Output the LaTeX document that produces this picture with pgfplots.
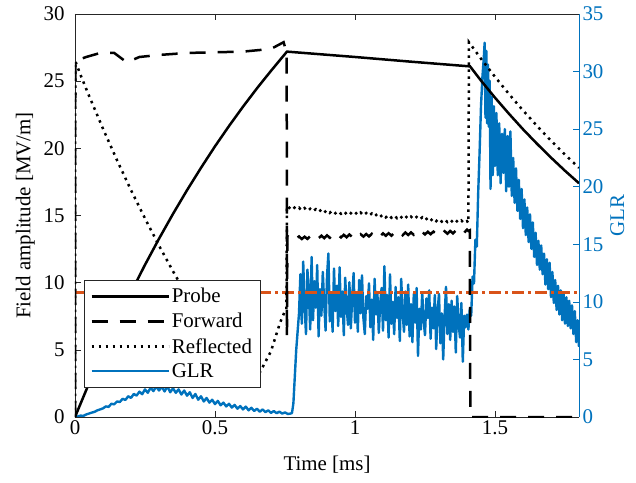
\documentclass[border=0pt]{standalone}
\usepackage{fontspec}
\setmainfont{Liberation Serif}
\usepackage{pgfplots}
\pgfplotsset{compat=1.18}
\definecolor{mblue}{RGB}{0,114,189}
\definecolor{morange}{RGB}{217,83,25}
\definecolor{axgray}{RGB}{38,38,38}
\newcommand{\lblfont}{\fontsize{21}{25}\selectfont}
\begin{document}
\begin{tikzpicture}
\pgfplotsset{
  common/.style={
    scale only axis, width=504bp, height=403bp,
    xmin=0, xmax=1.8,
    tick align=inside,
    /pgf/number format/assume math mode=true,
    tick label style={font=\lblfont},
    major tick length=6bp,
    clip=true,
  }
}
% ---------------- right axis (GLR) ----------------
\begin{axis}[common, name=ax2,
  axis x line=none, axis y line*=right,
  ymin=0, ymax=35, ytick={0,5,10,15,20,25,30,35},
  y axis line style={mblue, line width=0.6bp},
  ytick style={mblue, line width=0.6bp},
  yticklabel style={mblue},
  ylabel={GLR}, ylabel style={mblue, font=\lblfont},
]
\addplot[mblue, line width=2.4bp, line join=round] coordinates {
(0.00,0.00)(0.01,0.05)(0.02,0.12)(0.03,0.10)(0.04,0.22)(0.05,0.30)(0.06,0.38)(0.07,0.45)(0.08,0.58)(0.09,0.66)
(0.10,0.75)(0.11,0.92)(0.12,0.88)(0.13,1.15)(0.14,1.10)(0.15,1.35)(0.16,1.30)(0.17,1.58)(0.18,1.48)(0.19,1.80)
(0.20,1.66)(0.21,2.00)(0.22,1.86)(0.23,2.20)(0.24,1.98)(0.25,2.40)(0.26,2.10)(0.27,2.55)(0.28,2.25)(0.29,2.65)
(0.30,2.30)(0.31,2.62)(0.32,2.22)(0.33,2.66)(0.34,2.15)(0.35,2.50)(0.36,2.10)(0.37,2.40)(0.38,1.95)(0.39,2.30)
(0.40,1.85)(0.41,2.15)(0.42,1.65)(0.43,2.00)(0.44,1.50)(0.45,1.80)(0.46,1.35)(0.47,1.65)(0.48,1.25)(0.49,1.50)
(0.50,1.12)(0.51,1.40)(0.52,1.02)(0.53,1.25)(0.54,0.92)(0.55,1.15)(0.56,0.82)(0.57,1.05)(0.58,0.72)(0.59,0.95)
(0.60,0.66)(0.61,0.90)(0.62,0.58)(0.63,0.80)(0.64,0.52)(0.65,0.72)(0.66,0.46)(0.67,0.66)(0.68,0.42)(0.69,0.58)
(0.70,0.36)(0.71,0.52)(0.72,0.33)(0.73,0.46)(0.74,0.30)(0.75,0.40)(0.76,0.26)(0.77,0.30)(0.775,0.35)
(0.780,1.2)(0.785,3.5)(0.790,5.8)(0.795,7.4)
(0.800,9.0)(0.805,12.4)(0.810,8.1)(0.815,13.5)(0.820,9.6)(0.825,7.2)(0.830,12.8)(0.835,10.9)(0.840,7.6)(0.845,13.9)
(0.850,8.4)(0.855,11.8)(0.860,9.5)(0.865,13.2)(0.870,7.0)(0.875,11.1)(0.880,8.8)(0.885,12.6)(0.890,9.9)(0.895,7.5)
(0.900,12.2)(0.905,14.2)(0.910,8.3)(0.915,10.7)(0.920,7.4)(0.925,12.9)(0.930,9.2)(0.935,11.4)(0.940,7.9)(0.945,13.0)
(0.950,8.7)(0.955,10.9)(0.960,7.1)(0.965,12.1)(0.970,9.6)(0.975,8.0)(0.980,11.7)(0.985,7.7)(0.990,10.3)(0.995,12.5)
(1.000,8.2)(1.005,10.8)(1.010,7.4)(1.015,11.9)(1.020,9.0)(1.025,12.3)(1.030,8.6)(1.035,7.2)(1.040,10.5)(1.045,9.4)
(1.050,11.6)(1.055,7.8)(1.060,10.2)(1.065,6.7)(1.070,12.0)(1.075,8.9)(1.080,10.8)(1.085,7.3)(1.090,9.9)(1.095,11.2)
(1.100,7.5)(1.105,13.1)(1.110,8.4)(1.115,10.6)(1.120,6.9)(1.125,12.4)(1.130,8.1)(1.135,10.0)(1.140,7.2)(1.145,11.3)
(1.150,8.6)(1.155,10.4)(1.160,6.6)(1.165,12.0)(1.170,9.1)(1.175,7.4)(1.180,10.9)(1.185,8.0)(1.190,11.5)(1.195,7.0)
(1.200,9.8)(1.205,6.5)(1.210,10.7)(1.215,8.2)(1.220,11.2)(1.225,5.3)(1.230,9.4)(1.235,7.6)(1.240,10.8)(1.245,8.4)
(1.250,7.1)(1.255,10.3)(1.260,8.6)(1.265,11.0)(1.270,6.8)(1.275,9.5)(1.280,7.7)(1.285,10.6)(1.290,5.9)(1.295,9.2)
(1.300,10.7)(1.305,6.4)(1.310,9.0)(1.315,5.0)(1.320,8.7)(1.325,11.3)(1.330,7.2)(1.335,9.8)(1.340,6.7)(1.345,10.1)
(1.350,7.4)(1.355,9.6)(1.360,5.6)(1.365,10.5)(1.370,8.1)(1.375,6.9)(1.380,9.9)(1.385,4.8)(1.390,8.8)(1.395,7.8)
(1.400,8.9)(1.405,7.6)(1.410,9.4)(1.415,8.8)(1.420,12.2)(1.425,11.6)(1.430,15.4)(1.435,14.8)(1.440,19.5)(1.445,23.0)
(1.450,27.0)(1.455,29.5)(1.460,31.2)(1.463,32.5)(1.466,26.0)(1.469,31.8)(1.472,25.5)(1.475,30.6)(1.478,25.2)(1.481,29.2)
(1.484,19.8)(1.488,27.8)(1.492,21.0)(1.496,27.0)
(1.500,21.8)(1.505,26.4)(1.510,21.0)(1.515,25.5)(1.520,20.3)(1.525,24.6)(1.530,21.2)(1.535,25.0)(1.540,19.6)(1.545,24.4)
(1.550,20.0)(1.555,24.8)(1.560,19.2)(1.565,22.5)(1.570,18.6)(1.575,21.6)(1.580,17.9)(1.585,20.6)(1.590,17.2)(1.595,19.8)
(1.600,16.4)(1.605,18.9)(1.610,15.8)(1.615,18.2)(1.620,15.2)(1.625,17.6)(1.630,14.6)(1.635,16.9)(1.640,13.9)(1.645,16.0)
(1.650,13.2)(1.655,15.3)(1.660,12.8)(1.665,14.9)(1.670,12.4)(1.675,14.2)(1.680,11.5)(1.685,13.7)(1.690,11.1)(1.695,13.4)
(1.700,10.4)(1.705,12.6)(1.710,9.9)(1.715,11.9)(1.720,9.3)(1.725,11.4)(1.730,8.9)(1.735,11.0)(1.740,8.4)(1.745,10.7)
(1.750,8.1)(1.755,10.4)(1.760,7.9)(1.765,10.1)(1.770,7.7)(1.775,9.7)(1.780,7.2)(1.785,9.2)(1.790,6.5)(1.795,8.4)
(1.800,6.1)
};
\addplot[morange, line width=2.4bp, dash pattern=on 12bp off 4bp on 3bp off 4bp] coordinates {(0,10.8) (1.8,10.8)};
\end{axis}
% ---------------- left axis (field) ----------------
\begin{axis}[common, name=ax,
  axis x line=box, axis y line*=left,
  ymin=0, ymax=30, ytick={0,5,10,15,20,25,30},
  xtick={0,0.5,1,1.5},
  xticklabels={0,0.5,1,1.5},
  yticklabel style={xshift=-7bp},
  axis line style={axgray, line width=0.6bp},
  tick style={axgray, line width=0.6bp},
  xlabel={Time [ms]}, ylabel={Field amplitude [MV/m]},
  xlabel style={font=\lblfont, yshift=-14bp},
  ylabel style={font=\lblfont, yshift=2bp},
  legend cell align=left,
  legend style={at={(0.018,0.074)}, anchor=south west, font=\lblfont,
    draw=axgray, line width=0.5bp, fill=white, inner xsep=6bp, inner ysep=6bp,
    row sep=5bp},
  legend image code/.code={\draw[#1] (0bp,0bp) -- (77bp,0bp);},
]
\addplot[black, line width=2.5bp] coordinates {
(0,0)(0.05,2.50)(0.1,4.87)(0.15,7.13)(0.2,9.28)(0.25,11.33)(0.3,13.27)(0.35,15.12)(0.4,16.88)
(0.45,18.55)(0.5,20.15)(0.55,21.66)(0.6,23.10)(0.65,24.47)(0.7,25.77)(0.757,27.2)
(1.0,26.8)(1.2,26.45)(1.411,26.1)(1.45,25.04)(1.5,23.77)(1.55,22.57)(1.6,21.42)(1.65,20.34)
(1.7,19.31)(1.75,18.33)(1.8,17.40)
};
\addlegendentry{Probe}
\addplot[black, line width=2.5bp, dash pattern=on 16bp off 12bp] coordinates {
(0,0)(0.001,26.5)(0.04,26.8)(0.09,27.1)(0.14,27.1)(0.185,26.4)(0.23,26.8)(0.3,26.95)(0.4,27.1)
(0.5,27.15)(0.6,27.2)(0.7,27.4)(0.745,27.9)(0.752,27.4)(0.756,27.3)(0.757,6.0)(0.7585,13.45)
(0.760,13.45)(0.770,13.30)(0.780,13.48)(0.790,13.28)(0.800,13.44)(0.810,13.25)(0.820,13.42)(0.830,13.26)(0.840,13.45)(0.850,13.28)
(0.860,13.47)(0.870,13.30)(0.880,13.50)(0.890,13.32)(0.900,13.52)(0.910,13.34)(0.920,13.53)(0.930,13.35)(0.940,13.55)(0.950,13.37)
(0.960,13.56)(0.970,13.38)(0.980,13.58)(0.990,13.40)(1.000,13.60)(1.010,13.41)(1.020,13.61)(1.030,13.43)(1.040,13.62)(1.050,13.44)
(1.060,13.64)(1.070,13.46)(1.080,13.65)(1.090,13.47)(1.100,13.67)(1.110,13.49)(1.120,13.68)(1.130,13.50)(1.140,13.70)(1.150,13.52)
(1.160,13.71)(1.170,13.53)(1.180,13.73)(1.190,13.55)(1.200,13.74)(1.210,13.56)(1.220,13.76)(1.230,13.58)(1.240,13.77)(1.250,13.59)
(1.260,13.79)(1.270,13.61)(1.280,13.80)(1.290,13.62)(1.300,13.82)(1.310,13.64)(1.320,13.83)(1.330,13.65)(1.340,13.85)(1.350,13.67)
(1.360,13.87)(1.370,13.69)(1.380,13.90)(1.390,13.72)(1.400,13.95)(1.405,13.85)(1.410,13.9)(1.412,0)(1.8,0)
};
\addlegendentry{Forward}
\addplot[black, line width=2.5bp, dash pattern=on 2.5bp off 4.5bp] coordinates {
(0,0)(0.001,26.5)(0.02,25.45)(0.05,23.92)(0.1,21.46)(0.15,19.12)(0.2,16.89)(0.25,14.78)(0.3,12.76)
(0.35,10.85)(0.4,9.03)(0.45,7.29)(0.5,5.65)(0.55,4.3)(0.6,3.4)(0.63,3.1)(0.661,3.35)(0.7,4.9)(0.732,7.0)
(0.75,7.9)(0.755,8.0)(0.757,15.7)
(0.760,15.70)(0.770,15.48)(0.780,15.66)(0.790,15.45)(0.800,15.58)(0.810,15.36)(0.820,15.55)(0.830,15.33)(0.840,15.50)(0.850,15.30)
(0.860,15.47)(0.870,15.26)(0.880,15.44)(0.890,15.22)(0.900,15.41)(0.910,15.20)(0.920,15.38)(0.930,15.17)(0.940,15.33)(0.950,15.13)
(0.960,15.32)(0.970,15.10)(0.980,15.28)(0.990,15.08)(1.000,15.25)(1.010,15.03)(1.020,15.22)(1.030,15.00)(1.040,15.18)(1.050,14.97)
(1.060,15.15)(1.070,14.93)(1.080,15.12)(1.090,14.90)(1.100,15.08)(1.110,14.86)(1.120,15.05)(1.130,14.84)(1.140,15.02)(1.150,14.80)
(1.160,14.99)(1.170,14.77)(1.180,14.96)(1.190,14.74)(1.200,14.92)(1.210,14.71)(1.220,14.89)(1.230,14.68)(1.240,14.86)(1.250,14.64)
(1.260,14.83)(1.270,14.61)(1.280,14.80)(1.290,14.58)(1.300,14.76)(1.310,14.55)(1.320,14.73)(1.330,14.52)(1.340,14.70)(1.350,14.48)
(1.360,14.66)(1.370,14.45)(1.380,14.63)(1.390,14.42)(1.400,14.58)(1.405,14.45)
(1.407,27.9)(1.45,26.67)(1.5,25.32)(1.55,24.04)(1.6,22.82)(1.65,21.67)(1.7,20.57)(1.75,19.53)(1.8,18.54)
};
\addlegendentry{Reflected}
\addlegendimage{mblue, line width=2.4bp}
\addlegendentry{GLR}
\end{axis}
\pgfresetboundingbox
\path ([shift={(-75bp,-66bp)}]ax.south west) rectangle ([shift={(57bp,14bp)}]ax.north east);
\end{tikzpicture}
\end{document}
